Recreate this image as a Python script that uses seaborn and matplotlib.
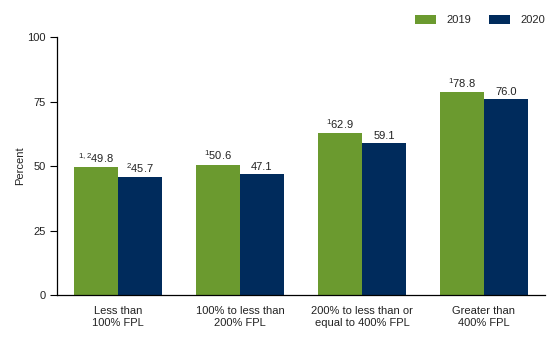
import matplotlib
matplotlib.use("Agg")
import matplotlib.pyplot as plt
import seaborn as sns
import pandas as pd

categories = ["Less than\n100% FPL", "100% to less than\n200% FPL",
              "200% to less than or\nequal to 400% FPL", "Greater than\n400% FPL"]
years = ["2019", "2020"]
values_2019 = [49.8, 50.6, 62.9, 78.8]
values_2020 = [45.7, 47.1, 59.1, 76.0]
notes_2019 = ["1,2", "1", "1", "1"]
notes_2020 = ["2", "", "", ""]
yticks = [0, 25, 50, 75, 100]
colors = ["#6b9a2f", "#002b5c"]

sns.set_theme(style="white")
plt.rcParams["font.family"] = ["Liberation Sans", "DejaVu Sans"]
plt.rcParams["mathtext.fontset"] = "custom"
plt.rcParams["mathtext.rm"] = "Liberation Sans"

df = pd.DataFrame({
    "cat": categories * 2,
    "year": [years[0]] * 4 + [years[1]] * 4,
    "val": values_2019 + values_2020,
})

FS = 8
fig = plt.figure(figsize=(5.6, 3.4), dpi=100)
ax = fig.add_axes([0.102, 0.132, 0.871, 0.759])
sns.barplot(data=df, x="cat", y="val", hue="year", palette=colors,
            width=0.72, saturation=1, ax=ax, legend=True, linewidth=0)

ax.set_ylim(0, 100)
ax.set_xlim(-0.5, 3.5)
ax.set_yticks(yticks)
ax.set_yticklabels([str(t) for t in yticks], fontsize=FS, color="#222222")
ax.tick_params(axis="y", length=5, width=0.8, color="black", left=True, pad=3)
ax.tick_params(axis="x", length=0, labelsize=FS, pad=8, labelcolor="#222222")
ax.set_xlabel("")
ax.set_ylabel("Percent", fontsize=FS, color="#222222", labelpad=2)
for s in ["top", "right"]:
    ax.spines[s].set_visible(False)
for s in ["left", "bottom"]:
    ax.spines[s].set_color("black")
    ax.spines[s].set_linewidth(0.9)

all_notes = [notes_2019, notes_2020]
all_vals = [values_2019, values_2020]
for i, cont in enumerate(ax.containers):
    for j, bar in enumerate(cont):
        note = all_notes[i][j]
        v = all_vals[i][j]
        txt = (r"$^{\mathrm{" + note + "}}$" if note else "") + f"{v:.1f}"
        ax.text(bar.get_x() + bar.get_width() / 2, bar.get_height() + 0.8, txt,
                ha="center", va="bottom", fontsize=FS, color="#222222")

handles, labels = ax.get_legend_handles_labels()
ax.legend(handles, labels, loc="lower right", bbox_to_anchor=(1.0, 1.045),
          ncol=2, frameon=False, fontsize=FS, handlelength=1.9, handleheight=0.9,
          columnspacing=1.6, handletextpad=0.9, borderaxespad=0, borderpad=0)

fig.savefig("out.png", dpi=100)
